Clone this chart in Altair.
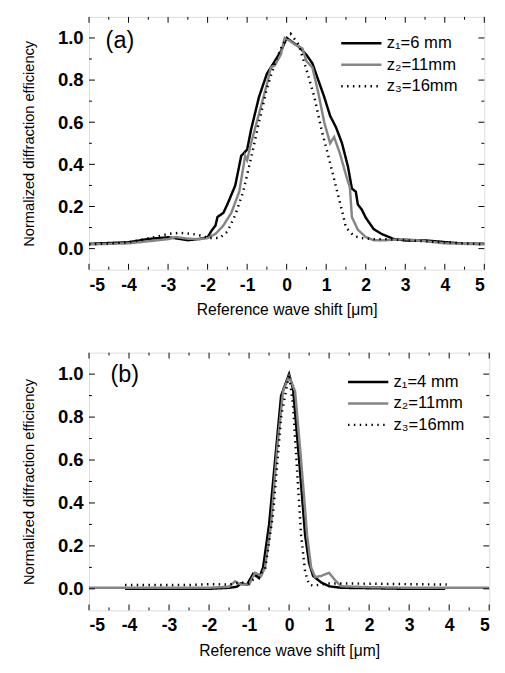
import altair as alt
import pandas as pd

# ---------------- data: panel (a) ----------------
a_names = ["z₁=6 mm", "z₂=11mm", "z₃=16mm"]
a_x1 = [-5, -4, -3.5, -3, -2.7, -2.5, -2.2, -2.0, -1.9, -1.8, -1.75, -1.6, -1.5, -1.3, -1.15, -1.0,
        -0.9, -0.7, -0.5, -0.3, -0.15, 0.0, 0.15, 0.3, 0.5, 0.65, 0.8, 0.95, 1.1, 1.25, 1.4, 1.55,
        1.65, 1.75, 1.8, 1.9, 2.0, 2.2, 2.4, 2.7, 3.0, 3.5, 4.0, 4.5, 5.0]
a_y1 = [0.023, 0.03, 0.046, 0.054, 0.046, 0.04, 0.046, 0.054, 0.085, 0.11, 0.15, 0.17, 0.21, 0.30, 0.44, 0.47,
        0.565, 0.72, 0.83, 0.89, 0.935, 1.0, 0.98, 0.96, 0.92, 0.88, 0.80, 0.72, 0.63, 0.575, 0.50, 0.39,
        0.285, 0.27, 0.21, 0.185, 0.147, 0.093, 0.07, 0.046, 0.039, 0.039, 0.031, 0.023, 0.023]
a_x2 = [-5, -4, -3, -2.8, -2.5, -2.2, -2.0, -1.8, -1.6, -1.4, -1.2, -1.05, -1.0, -0.9, -0.7, -0.5, -0.4,
        -0.3, -0.15, -0.05, 0.05, 0.2, 0.4, 0.5, 0.65, 0.8, 0.95, 1.1, 1.2, 1.35, 1.5, 1.6, 1.65, 1.8,
        2.0, 2.2, 2.5, 3.0, 3.5, 4.0, 5.0]
a_y2 = [0.02, 0.025, 0.045, 0.055, 0.047, 0.045, 0.05, 0.07, 0.11, 0.17, 0.27, 0.44, 0.42, 0.5, 0.64, 0.78, 0.86,
        0.87, 0.92, 1.0, 0.99, 0.97, 0.95, 0.89, 0.86, 0.74, 0.60, 0.50, 0.53, 0.45, 0.35, 0.29, 0.15, 0.09,
        0.055, 0.04, 0.04, 0.045, 0.035, 0.025, 0.02]
a_x3 = [-5, -4, -3.2, -3.0, -2.7, -2.4, -2.1, -2.0, -1.7, -1.5, -1.3, -1.1, -0.9, -0.7, -0.5, -0.3, -0.1,
        0.1, 0.3, 0.5, 0.7, 0.9, 1.0, 1.2, 1.4, 1.5, 1.7, 1.9, 2.2, 2.5, 3.0, 4.0, 5.0]
a_y3 = [0.02, 0.03, 0.06, 0.07, 0.075, 0.07, 0.06, 0.05, 0.05, 0.08, 0.16, 0.27, 0.43, 0.60, 0.76, 0.88, 0.97,
        1.02, 0.97, 0.85, 0.72, 0.55, 0.48, 0.33, 0.18, 0.10, 0.06, 0.05, 0.045, 0.045, 0.04, 0.03, 0.02]

# ---------------- data: panel (b) ----------------
b_names = ["z₁=4 mm", "z₂=11mm", "z₃=16mm"]
b_x1 = [-4.1, -2.0, -1.5, -1.3, -1.2, -1.05, -0.9, -0.75, -0.65, -0.5, -0.35, -0.2, 0.0, 0.1, 0.25,
        0.4, 0.5, 0.6, 0.8, 1.0, 1.3, 2.0, 3.0, 3.9]
b_y1 = [0.0, 0.0, 0.005, 0.01, 0.026, 0.02, 0.07, 0.05, 0.10, 0.30, 0.60, 0.90, 1.0, 0.93, 0.60,
        0.25, 0.12, 0.06, 0.03, 0.012, 0.005, 0.003, 0.0, 0.0]
b_x2 = [-5, -2.0, -1.5, -1.35, -1.2, -1.0, -0.85, -0.7, -0.6, -0.45, -0.3, -0.15, 0.0, 0.15, 0.3,
        0.45, 0.55, 0.65, 0.8, 1.0, 1.15, 1.3, 2.0, 3.0, 5.0]
b_y2 = [0.005, 0.005, 0.01, 0.035, 0.02, 0.02, 0.075, 0.06, 0.10, 0.30, 0.65, 0.92, 0.99, 0.92, 0.60,
        0.25, 0.10, 0.055, 0.06, 0.075, 0.04, 0.012, 0.008, 0.005, 0.005]
b_x3 = [-4.1, -2.5, -2.0, -1.5, -1.2, -1.0, -0.8, -0.6, -0.4, -0.2, 0.0, 0.1, 0.2, 0.3, 0.4, 0.5,
        0.6, 0.8, 1.0, 1.5, 3.94]
b_y3 = [0.018, 0.018, 0.022, 0.02, 0.03, 0.025, 0.06, 0.09, 0.35, 0.80, 1.0, 0.85, 0.55, 0.25, 0.08, 0.02,
        0.015, 0.02, 0.025, 0.025, 0.02]

# ---------------- axis ticks ----------------
x_major = [-5, -4, -3, -2, -1, 0, 1, 2, 3, 4, 5]
x_minor = [-4.5, -3.5, -2.5, -1.5, -0.5, 0.5, 1.5, 2.5, 3.5, 4.5]
y_major = [0.0, 0.2, 0.4, 0.6, 0.8, 1.0]
y_minor = [0.1, 0.3, 0.5, 0.7, 0.9]

X_TITLE = "Reference wave shift [μm]"
Y_TITLE = "Normalized diffraction efficiency"
FONT = "Liberation Sans"
GRAY = "#858585"

XAXIS = alt.Axis(values=x_major, labelExpr="'' + datum.value", ticks=False,
                 domain=False, grid=False, labelFontSize=18, labelFontWeight="bold",
                 labelFont=FONT, labelColor="black", labelPadding=7,
                 titleFontSize=16, titleFontWeight="normal", titleFont=FONT,
                 titleColor="black", titlePadding=8)
YAXIS = alt.Axis(values=y_major, format=".1f", ticks=False, domain=False, grid=False,
                 labelFontSize=19, labelFontWeight="bold", labelFont=FONT,
                 labelColor="black", labelPadding=6, titleFontSize=15,
                 titleFontWeight="normal", titleFont=FONT, titleColor="black",
                 titlePadding=21)


def build_df(names, xs_list, ys_list):
    rows = []
    for name, xs, ys in zip(names, xs_list, ys_list):
        for xv, yv in zip(xs, ys):
            rows.append({"x": xv, "y": yv, "series": name})
    return pd.DataFrame(rows)


def panel(names, xs_list, ys_list, label, W, H, legx, legy, labx, laby):
    df = build_df(names, xs_list, ys_list)
    xscale = alt.Scale(domain=[-5, 5], nice=False, zero=False)
    yscale = alt.Scale(domain=[-0.1, 1.1], nice=False, zero=False)
    leg = alt.Legend(orient="none", legendX=legx, legendY=legy, title=None,
                     symbolType="stroke", symbolSize=1700, labelFontSize=17,
                     labelFont=FONT, labelColor="black", clipHeight=22,
                     rowPadding=0, labelOffset=4, labelLimit=200, padding=0)
    lines = alt.Chart(df).mark_line(interpolate="linear", strokeCap="butt").encode(
        x=alt.X("x:Q", scale=xscale, title=X_TITLE, axis=XAXIS),
        y=alt.Y("y:Q", scale=yscale, title=Y_TITLE, axis=YAXIS),
        color=alt.Color("series:N", scale=alt.Scale(domain=names, range=["black", GRAY, "black"]),
                        legend=leg),
        strokeDash=alt.StrokeDash("series:N",
                                  scale=alt.Scale(domain=names, range=[[1, 0], [1, 0], [1.5, 4.5]]),
                                  legend=leg),
        strokeWidth=alt.StrokeWidth("series:N",
                                    scale=alt.Scale(domain=names, range=[2.5, 2.5, 1.4]),
                                    legend=leg),
        order=alt.Order("x:Q"),
    )

    xmaj = pd.DataFrame({"x": x_major})
    xmin = pd.DataFrame({"x": x_minor})
    ymaj = pd.DataFrame({"y": y_major})
    ymin = pd.DataFrame({"y": y_minor})
    tick_layers = []
    for d, ln in ((xmaj, 6), (xmin, 3)):
        xe = alt.X("x:Q", scale=xscale, title=X_TITLE, axis=XAXIS)
        tick_layers.append(alt.Chart(d).mark_rule(color="black", strokeWidth=1).encode(
            x=xe, y=alt.value(H), y2=alt.value(H - ln)))
        tick_layers.append(alt.Chart(d).mark_rule(color="black", strokeWidth=1).encode(
            x=xe, y=alt.value(0), y2=alt.value(ln)))
    for d, ln in ((ymaj, 6), (ymin, 3)):
        ye = alt.Y("y:Q", scale=yscale, title=Y_TITLE, axis=YAXIS)
        tick_layers.append(alt.Chart(d).mark_rule(color="black", strokeWidth=1).encode(
            y=ye, x=alt.value(0), x2=alt.value(ln)))
        tick_layers.append(alt.Chart(d).mark_rule(color="black", strokeWidth=1).encode(
            y=ye, x=alt.value(W), x2=alt.value(W - ln)))

    lab = alt.Chart(pd.DataFrame({"t": [label]})).mark_text(
        font=FONT, fontSize=24, align="left", baseline="middle", color="black").encode(
        x=alt.value(labx), y=alt.value(laby), text="t:N")

    return alt.layer(lines, *tick_layers, lab).properties(width=W, height=H)


pa = panel(a_names, [a_x1, a_x2, a_x3], [a_y1, a_y2, a_y3], "(a)", 405, 259, 257, 16, 17, 25)
pb = panel(b_names, [b_x1, b_x2, b_x3], [b_y1, b_y2, b_y3], "(b)", 410, 264, 264, 19, 22, 23)

chart = alt.vconcat(pa, pb, spacing=34).resolve_scale(
    color="independent", strokeDash="independent", strokeWidth="independent"
).resolve_legend(
    color="independent", strokeDash="independent", strokeWidth="independent"
).properties(
    padding={"left": 14, "top": 0, "right": 2, "bottom": 2}
).configure_view(
    stroke="black", strokeWidth=1.2
).configure(
    font=FONT, background="white"
)

chart.save("out.html", embed_options={"renderer": "svg", "actions": False})
